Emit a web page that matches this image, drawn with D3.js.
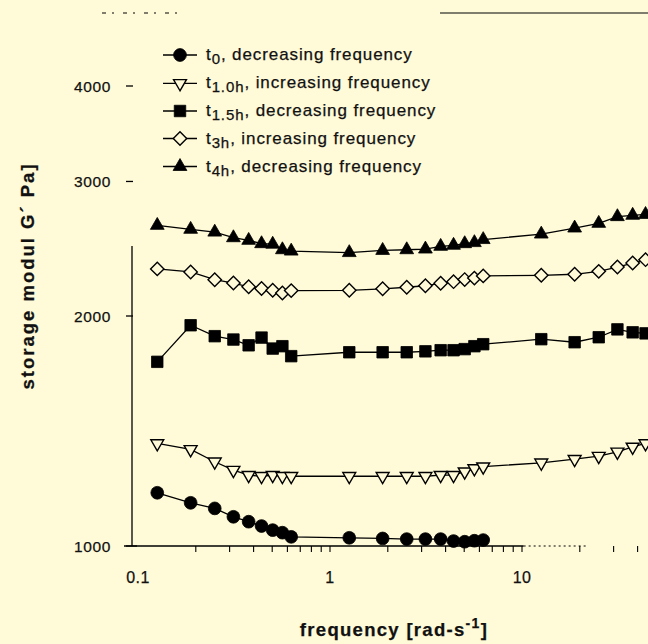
<!DOCTYPE html>
<html>
<head>
<meta charset="utf-8">
<script src="https://cdn.jsdelivr.net/npm/d3@7"></script>
<style>
  html, body { margin: 0; padding: 0; background: #fffad8; }
  svg { display: block; }
  text { font-family: "Liberation Sans", Arial, sans-serif; fill: #111; stroke: #111; stroke-width: 0.25; }
</style>
</head>
<body>
<svg id="chart" width="648" height="644"></svg>
<script>
// Angular frequencies of the sweep [rad/s]
const frequency = [0.126, 0.188, 0.251, 0.314, 0.377, 0.440, 0.503, 0.565, 0.628,
                   1.26, 1.88, 2.51, 3.14, 3.77, 4.40, 5.03, 5.65, 6.28,
                   12.6, 18.8, 25.1, 31.4, 37.7, 44.0];

// Storage modulus G' [Pa] for each run
const g_t0   = [1174, 1139, 1120, 1092, 1076, 1062, 1049, 1041, 1028,
                1025, 1023, 1021, 1021, 1021, 1015, 1013, 1016, 1018];
const g_t1_0 = [1362, 1338, 1289, 1257, 1238, 1234, 1238, 1234, 1234,
                1234, 1234, 1234, 1234, 1238, 1238, 1251, 1263, 1270,
                1285, 1299, 1311, 1328, 1348, 1362];
const g_t1_5 = [1742, 1945, 1882, 1863, 1831, 1874, 1813, 1826, 1772,
                1793, 1793, 1793, 1798, 1804, 1804, 1810, 1826, 1837,
                1865, 1848, 1876, 1921, 1904, 1898];
const g_t3   = [2305, 2284, 2231, 2209, 2184, 2173, 2161, 2144, 2159,
                2161, 2171, 2181, 2191, 2207, 2218, 2232, 2242, 2257,
                2261, 2268, 2288, 2318, 2346, 2370];
const g_t4   = [2628, 2597, 2575, 2532, 2512, 2487, 2483, 2442, 2432,
                2421, 2437, 2442, 2447, 2467, 2475, 2487, 2495, 2518,
                2560, 2607, 2644, 2698, 2709, 2716];

const yTicks = [1000, 2000, 3000, 4000];
const xTicks = [0.1, 1, 10];
const xTickLabels = ["0.1", "1", "10"];

const seriesSub = ["0", "1.0h", "1.5h", "3h", "4h"];
const seriesText = [", decreasing frequency", ", increasing frequency", ", decreasing frequency",
                    ", increasing frequency", ", decreasing frequency"];

const series = [
  { values: g_t0,   marker: "circle",   filled: true  },
  { values: g_t1_0, marker: "triDown",  filled: false },
  { values: g_t1_5, marker: "square",   filled: true  },
  { values: g_t3,   marker: "diamond",  filled: false },
  { values: g_t4,   marker: "triUp",    filled: true  }
];

const bg = "#fffad8";
const svg = d3.select("#chart");
svg.append("rect").attr("width", 648).attr("height", 644).attr("fill", bg);

const x = d3.scaleLog().domain([0.1, 10]).range([138, 522]);
const y = d3.scaleLog().domain([1000, 2000]).range([546, 316]);

const axisX = 132;   // position of the vertical axis
const baseY = y(1000);

// marker shapes
function markerPath(kind) {
  switch (kind) {
    case "circle":  return d3.symbol(d3.symbolCircle, 128)();
    case "square":  return d3.symbol(d3.symbolSquare, 132)();
    case "diamond": return d3.symbol(d3.symbolSquare, 90)();
    case "triUp":   return d3.symbol(d3.symbolTriangle, 82)();
    case "triDown": return d3.symbol(d3.symbolTriangle, 72)();
  }
}
function markerRotate(kind) {
  if (kind === "diamond") return 45;
  if (kind === "triDown") return 180;
  return 0;
}
function drawMarker(g, kind, filled, cx, cy) {
  g.append("path")
    .attr("d", markerPath(kind))
    .attr("transform", `translate(${cx},${cy}) rotate(${markerRotate(kind)})`)
    .attr("fill", filled ? "#000" : bg)
    .attr("stroke", "#000")
    .attr("stroke-width", filled ? 0.8 : 1.4);
}

// ----- axes -----
const axes = svg.append("g");
// vertical axis line (lower part) and ticks
axes.append("line")
  .attr("x1", axisX).attr("x2", axisX)
  .attr("y1", y(2470)).attr("y2", baseY)
  .attr("stroke", "#000").attr("stroke-width", 1.3);
yTicks.forEach(v => {
  axes.append("line")
    .attr("x1", axisX - 6).attr("x2", axisX + (v === 1000 ? 5 : 1))
    .attr("y1", y(v)).attr("y2", y(v))
    .attr("stroke", "#000").attr("stroke-width", 1.3);
  axes.append("text")
    .attr("x", 111).attr("y", y(v))
    .attr("dy", "0.36em")
    .attr("text-anchor", "end")
    .attr("font-size", 15.5)
    .attr("letter-spacing", 0.6)
    .text(d3.format("d")(v));
});

// horizontal axis: solid part, then a faint dotted continuation
axes.append("line")
  .attr("x1", axisX - 8).attr("x2", x(10.2))
  .attr("y1", baseY).attr("y2", baseY)
  .attr("stroke", "#000").attr("stroke-width", 1.3);
axes.append("line")
  .attr("x1", x(10.2)).attr("x2", x(22))
  .attr("y1", baseY).attr("y2", baseY)
  .attr("stroke", "#000").attr("stroke-width", 1)
  .attr("stroke-dasharray", "2,3");

const minorX = [];
[0.1, 1, 10].forEach(dec => {
  for (let k = 1; k <= 9; k++) minorX.push(dec * k);
});
minorX.forEach(v => {
  if (v < 0.15) return;
  axes.append("line")
    .attr("x1", x(v)).attr("x2", x(v))
    .attr("y1", baseY).attr("y2", baseY + 6)
    .attr("stroke", "#000").attr("stroke-width", 1.1);
});
xTicks.forEach((v, i) => {
  axes.append("text")
    .attr("x", x(v)).attr("y", 583)
    .attr("text-anchor", "middle")
    .attr("font-size", 16)
    .attr("letter-spacing", 0.4)
    .text(xTickLabels[i]);
});

// top frame fragment
axes.append("line")
  .attr("x1", 440).attr("x2", 648).attr("y1", 13).attr("y2", 13)
  .attr("stroke", "#000").attr("stroke-width", 1.2);
axes.append("line")
  .attr("x1", 102).attr("x2", 180).attr("y1", 13).attr("y2", 13)
  .attr("stroke", "#000").attr("stroke-width", 1)
  .attr("stroke-dasharray", "4,6,2,9");

// axis titles
const xt = svg.append("text")
  .attr("x", 394).attr("y", 636)
  .attr("text-anchor", "middle")
  .attr("font-size", 18.5).attr("font-weight", "bold")
  .attr("letter-spacing", 1.3);
xt.append("tspan").text("frequency [rad-s");
xt.append("tspan").attr("dy", -8).attr("font-size", 14).text("-1");
xt.append("tspan").attr("dy", 8).text("]");

svg.append("text")
  .attr("transform", "translate(34,276) rotate(-90)")
  .attr("text-anchor", "middle")
  .attr("font-size", 18.5).attr("font-weight", "bold")
  .attr("letter-spacing", 2)
  .text("storage modul G\u00B4 Pa]");

// ----- data -----
const line = d3.line().x(d => x(d[0])).y(d => y(d[1]));
const plot = svg.append("g");
series.forEach(s => {
  const pts = s.values.map((v, i) => [frequency[i], v]);
  plot.append("path")
    .attr("d", line(pts))
    .attr("fill", "none")
    .attr("stroke", "#000")
    .attr("stroke-width", 1.3);
  pts.forEach(p => drawMarker(plot, s.marker, s.filled, x(p[0]), y(p[1])));
});

// ----- legend -----
const legend = svg.append("g");
const rowY = [55, 83.3, 111, 138.5, 166.5];
series.forEach((s, i) => {
  legend.append("line")
    .attr("x1", 163).attr("x2", 197)
    .attr("y1", rowY[i]).attr("y2", rowY[i])
    .attr("stroke", "#000").attr("stroke-width", 1.3);
  drawMarker(legend, s.marker, s.filled, 180, rowY[i]);
  const t = legend.append("text")
    .attr("x", 206).attr("y", rowY[i] + 5)
    .attr("font-size", 17)
    .attr("letter-spacing", 0.9);
  t.append("tspan").text("t");
  t.append("tspan").attr("dy", 4).attr("font-size", 15).text(seriesSub[i]);
  t.append("tspan").attr("dy", -4).text(seriesText[i]);
});
</script>
</body>
</html>
